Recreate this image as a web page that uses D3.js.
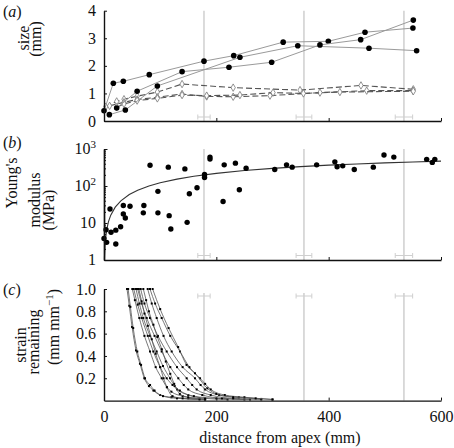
<!DOCTYPE html>
<html><head><meta charset="utf-8">
<script src="https://cdn.jsdelivr.net/npm/d3@7"></script>
</head><body style="margin:0;background:#fff">
<svg id="c" width="454" height="448"></svg>
<script>
// ---------- data ----------
const xTicks = [0, 200, 400, 600];
const sizeTicks = [0, 1, 2, 3, 4];
const modTicks = [1, 10, 100, 1000];
const strainTicks = [0.2, 0.4, 0.6, 0.8, 1.0];
const markerX = [178, 356, 534];
const markerErr = [11, 14, 15.5];

// (a) size, solid series (filled dots)
const sizeA = [[0,0.37],[16.6,1.37],[34.4,1.44],[80.6,1.68],[178,2.17],[231,2.37],[319,2.86],[399.4,2.89],[464.7,3.22],[550,3.37]];
const sizeB = [[9.5,0.23],[38,0.40],[95,1.27],[242,2.31],[345,2.73],[471.8,2.64],[556.6,2.55]];
const sizeC = [[22.6,0.47],[59,1.08],[139,1.79],[222.5,1.95],[298.5,2.13],[384.5,2.76],[457,2.95],[550.7,3.66]];
// (a) size, dashed series (open diamonds)
const sizeD1 = [[3,0.52],[22.6,0.71],[35.6,0.79],[59,0.9],[95,1.05],[139,1.34],[230,1.21],[349,1.12],[457.5,1.29],[550.7,1.15]];
const sizeD2 = [[10,0.55],[35.6,0.68],[59,0.78],[95,0.86],[139,0.98],[182.8,0.89],[230,0.88],[295.5,0.92],[384.5,1.03],[467.7,1.1],[550,1.1]];
const sizeD3 = [[22.6,0.5],[35.6,0.62],[59,0.74],[95,0.82],[139,0.94],[182.8,0.92],[242,0.94],[301,1.03],[355,1.0],[420,1.05],[550.7,1.08]];

// (b) Young's modulus scatter
const modX = [0,3.6,4.7,10.7,12.5,21,21,29.6,34.4,34.4,38,46.3,71,70,82,96,96,114.5,116,119,144,148,152,165.6,179,179,188.7,188.7,212,214,234,241,253,304,325,335,378.6,411,415,425,445.6,479.5,498.5,516,574.5,584.5,589];
const modE = [3.8,6.6,3.0,24,5.6,6.4,2.7,7.9,29.6,17.6,13.7,28.3,29.6,18.8,365,71.6,18.8,323,15.8,6.9,290,10.4,62,90,204,169,605,533,38,373,415,79,303,280,373,323,373,450,330,350,280,323,690,605,525,435,525];
// (b) fitted curve
const fitX = [0.75,1,2,3,5,8,12,20,30,45,60,80,100,130,160,200,250,300,350,400,450,500,550,600];
const fitE = [1.03,1.37,2.74,4.1,6.8,10.9,16.3,26.8,39.7,58.6,76.7,99.9,122,153.6,183,219.7,261.5,299.5,334,365.8,395,422,446.8,470];

// (c) strain remaining curves
const strain1 = [[41,1.0],[45,0.85],[50,0.66],[57,0.45],[64,0.33],[71.8,0.2],[80,0.13],[88,0.09],[100,0.05],[120,0.03],[150,0.02],[180,0.01]];
const strain2 = [[43,1.0],[47,0.84],[52,0.65],[59.3,0.44],[66,0.32],[73,0.2],[82,0.14],[90,0.09],[105,0.04],[130,0.02],[180,0.01]];
const strain3 = [[50.4,1.0],[55,0.9],[62.9,0.74],[72,0.58],[81.9,0.44],[92,0.3],[102.7,0.2],[112,0.12],[120,0.08],[140,0.04],[170,0.02]];
const strain4 = [[53,1.0],[60,0.86],[67.1,0.74],[78,0.58],[87.8,0.44],[100,0.3],[111.6,0.2],[122,0.14],[130,0.1],[150,0.05],[180,0.02],[220,0.01]];
const strain5 = [[57,1.0],[63,0.87],[70,0.74],[82,0.58],[93.8,0.44],[105,0.31],[117.5,0.2],[126,0.13],[135,0.09],[160,0.04],[200,0.02],[250,0.01]];
const strain6 = [[60,1.0],[67,0.87],[76,0.74],[90,0.58],[102.7,0.44],[118,0.3],[132.3,0.2],[142,0.14],[150,0.1],[175,0.05],[210,0.02],[260,0.01]];
const strain7 = [[65.3,1.0],[72,0.87],[81.9,0.74],[96,0.58],[111.6,0.44],[130,0.3],[147.2,0.2],[157,0.14],[165,0.1],[190,0.05],[230,0.02],[280,0.01]];
const strain8 = [[77.8,1.0],[85,0.87],[93.8,0.74],[106,0.58],[120.5,0.44],[140,0.3],[162,0.2],[172,0.14],[180,0.1],[205,0.05],[240,0.03],[280,0.015]];
const strain9 = [[81.9,1.0],[91,0.87],[102.7,0.74],[118,0.58],[135.3,0.44],[152,0.3],[171,0.2],[180,0.15],[190,0.1],[215,0.05],[250,0.03],[300,0.01]];
const strain10 = [[86.6,1.0],[100,0.82],[115,0.65],[132,0.48],[147,0.32],[162,0.245],[184,0.11],[200,0.06],[230,0.03],[270,0.02],[300,0.01]];
const strain11 = [[62,1.0],[67,0.89],[72,0.78],[78,0.67],[85,0.55],[92,0.42],[100,0.3],[106,0.2],[112,0.12],[122,0.04],[140,0.02],[170,0.01]];
const strain12 = [[70,1.0],[75,0.9],[80,0.8],[88,0.68],[95,0.57],[103,0.46],[110,0.35],[118,0.24],[125,0.15],[135,0.06],[150,0.03],[180,0.015]];

// ---------- drawing ----------
const FONT = "'Liberation Serif', 'Times New Roman', serif";
const svg = d3.select('#c');
const x = d3.scaleLinear().domain([0, 600]).range([104, 441]);
const yA = d3.scaleLinear().domain([0, 4]).range([121, 10.7]);
const yB = d3.scaleLog().domain([1, 1000]).range([260, 149]);
const yC = d3.scaleLinear().domain([0, 1]).range([400.6, 289]);

function serif(sel) { return sel.style('font-family', FONT, 'important'); }

function refLines(y0, y1, barY) {
  const g = svg.append('g').attr('stroke', '#cfcfcf').attr('fill', 'none');
  markerX.forEach((m, i) => {
    g.append('line').attr('x1', x(m)).attr('x2', x(m)).attr('y1', y0).attr('y2', y1).attr('stroke-width', 1.5);
    const e = markerErr[i];
    g.append('line').attr('x1', x(m - e)).attr('x2', x(m + e)).attr('y1', barY).attr('y2', barY).attr('stroke-width', 1);
    [m - e, m + e].forEach(v => g.append('line').attr('x1', x(v)).attr('x2', x(v)).attr('y1', barY - 2.5).attr('y2', barY + 2.5).attr('stroke-width', 1));
  });
}
refLines(yA(4), 121, 117);
refLines(149, 260, 255.5);
refLines(293, 400.6, 296);

function styleAxis(g) {
  g.attr('font-size', 16);
  serif(g);
  g.select('.domain').attr('stroke', '#111').attr('stroke-width', 1.4);
  g.selectAll('.tick line').attr('stroke', '#111');
  serif(g.selectAll('.tick text').attr('fill', '#111'));
}

// ---- panel (a) ----
const lineA = d3.line().x(d => x(d[0])).y(d => yA(d[1]));
[sizeD1, sizeD2, sizeD3].forEach(s => {
  svg.append('path').attr('d', lineA(s)).attr('fill', 'none').attr('stroke', '#555').attr('stroke-width', 1.1).attr('stroke-dasharray', '6,3');
  svg.append('g').selectAll('path').data(s).join('path')
    .attr('transform', d => `translate(${x(d[0])},${yA(d[1])})`)
    .attr('d', d3.symbol(d3.symbolDiamond, 16)).attr('fill', '#fff').attr('stroke', '#777').attr('stroke-width', 0.8);
});
[sizeA, sizeB, sizeC].forEach(s => {
  svg.append('path').attr('d', lineA(s)).attr('fill', 'none').attr('stroke', '#9a9a9a').attr('stroke-width', 1);
  svg.append('g').selectAll('circle').data(s).join('circle')
    .attr('cx', d => x(d[0])).attr('cy', d => yA(d[1])).attr('r', 2.8).attr('fill', '#000');
});
svg.append('g').attr('transform', 'translate(104,0)')
  .call(d3.axisLeft(yA).tickValues(sizeTicks).tickSize(-3).tickSizeOuter(0).tickPadding(8).tickFormat(d3.format('d')))
  .call(styleAxis);
svg.append('g').attr('transform', 'translate(0,121)')
  .call(d3.axisBottom(x).tickValues([200, 400, 600]).tickSize(-3).tickSizeOuter(0).tickFormat(''))
  .call(styleAxis);

// ---- panel (b) ----
const lineB = d3.line().x(d => x(d[0])).y(d => yB(d[1]));
svg.append('path').attr('d', lineB(fitX.map((v, i) => [v, fitE[i]]))).attr('fill', 'none').attr('stroke', '#333').attr('stroke-width', 1.1);
svg.append('g').selectAll('circle').data(modX.map((v, i) => [v, modE[i]])).join('circle')
  .attr('cx', d => x(d[0])).attr('cy', d => yB(d[1])).attr('r', 2.7).attr('fill', '#000');
const minor = [];
[1, 10, 100].forEach(dd => { for (let k = 2; k <= 9; k++) minor.push(dd * k); });
svg.append('g').attr('transform', 'translate(104,0)')
  .call(d3.axisLeft(yB).tickValues(minor).tickSize(-2).tickSizeOuter(0).tickFormat(''))
  .call(styleAxis);
svg.append('g').attr('transform', 'translate(104,0)')
  .call(d3.axisLeft(yB).tickValues(modTicks).tickSize(-3.5).tickSizeOuter(0).tickFormat(''))
  .call(styleAxis);
modTicks.forEach(t => {
  const tx = serif(svg.append('text').attr('x', 96).attr('y', yB(t)).attr('dy', '0.32em')
    .attr('text-anchor', 'end').attr('font-size', 16).attr('fill', '#111'));
  if (t < 100) tx.text(String(t));
  else {
    tx.append('tspan').text('10');
    tx.append('tspan').attr('font-size', 11).attr('dy', '-0.6em').text(String(Math.round(Math.log10(t))));
  }
});
svg.append('g').attr('transform', 'translate(0,260)')
  .call(d3.axisBottom(x).tickValues([200, 400, 600]).tickSize(-3).tickSizeOuter(0).tickFormat(''))
  .call(styleAxis);

// ---- panel (c) ----
svg.append('defs').append('clipPath').attr('id', 'clipC').append('rect')
  .attr('x', 104).attr('y', 287).attr('width', 340).attr('height', 115);
const gC = svg.append('g').attr('clip-path', 'url(#clipC)');
const lineC = d3.line().curve(d3.curveMonotoneX).x(d => x(d[0])).y(d => yC(d[1]));
[strain1, strain2, strain3, strain4, strain5, strain6, strain7, strain8, strain9, strain10, strain11, strain12].forEach(s => {
  gC.append('path').attr('d', lineC(s)).attr('fill', 'none').attr('stroke', '#555').attr('stroke-width', 0.8);
  gC.append('g').selectAll('rect').data(s).join('rect')
    .attr('x', d => x(d[0]) - 1).attr('y', d => yC(d[1]) - 1).attr('width', 2).attr('height', 2).attr('fill', '#000');
});
svg.append('g').attr('transform', 'translate(104,0)')
  .call(d3.axisLeft(yC).tickValues(strainTicks).tickSize(-3).tickSizeOuter(0).tickPadding(8).tickFormat(d3.format('.1f')))
  .call(styleAxis);
svg.append('g').attr('transform', 'translate(0,400.6)')
  .call(d3.axisBottom(x).tickValues(xTicks).tickSize(-3).tickSizeOuter(0).tickPadding(10.5).tickFormat(d3.format('d')))
  .call(styleAxis);

// ---- texts ----
function vlabel(bx, cy, txt) {
  return serif(svg.append('text').attr('transform', `translate(${bx},${cy}) rotate(-90)`)
    .attr('text-anchor', 'middle').attr('font-size', 16).attr('fill', '#111').text(txt));
}
vlabel(29, 38, 'size');
vlabel(41, 39, '(mm)');
vlabel(17, 183, "Young's");
vlabel(40, 200, 'modulus');
vlabel(54, 210, '(MPa)');
vlabel(26, 345, 'strain');
vlabel(38.5, 342, 'remaining');
const u = vlabel(59, 327, '');
u.append('tspan').text('(mm mm');
u.append('tspan').attr('font-size', 11).attr('dy', '-0.55em').text('\u22121');
u.append('tspan').attr('dy', '0.4em').text(')');

serif(svg.append('text').attr('x', 280).attr('y', 443).attr('text-anchor', 'middle').attr('font-size', 16).attr('fill', '#111')).text('distance from apex (mm)');
[['a', 17], ['b', 148], ['c', 295]].forEach(([l, y]) => {
  const t = serif(svg.append('text').attr('x', 3).attr('y', y).attr('font-size', 16).attr('fill', '#111'));
  t.append('tspan').text('(');
  t.append('tspan').attr('font-style', 'italic').text(l);
  t.append('tspan').text(')');
});
</script>
</body></html>
